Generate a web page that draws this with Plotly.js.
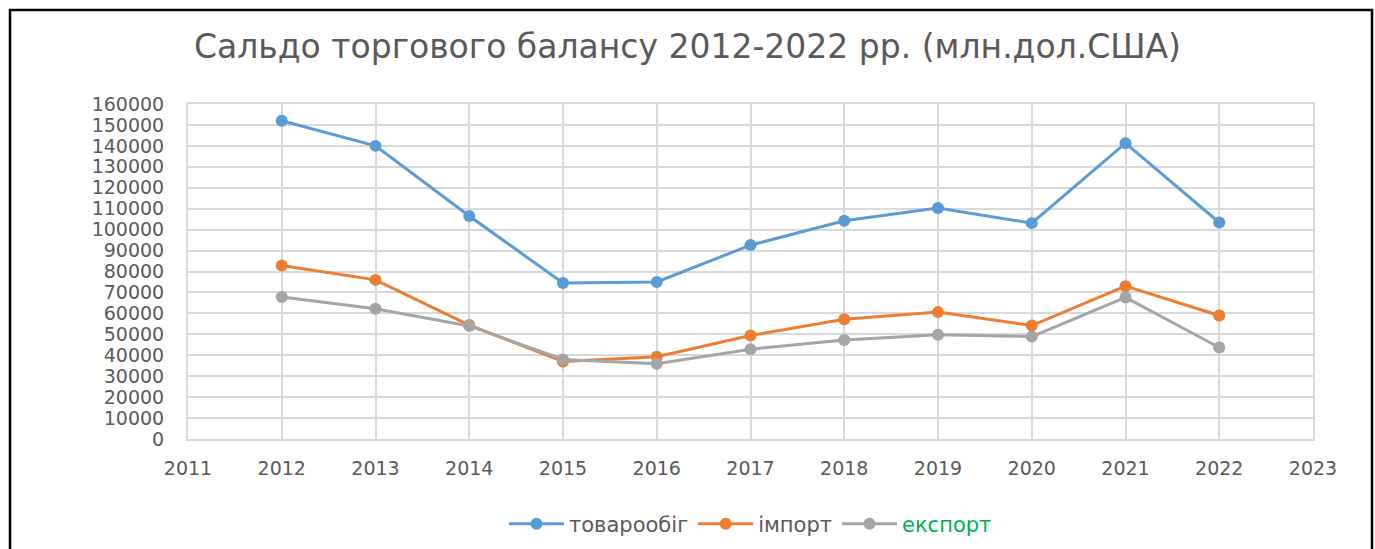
<!DOCTYPE html>
<html>
<head>
<meta charset="utf-8">
<script src="https://cdn.plot.ly/plotly-3.0.1.min.js"></script>
<style>html,body{margin:0;padding:0;background:#fff;}#chart{width:1375px;height:549px;}</style>
</head>
<body>
<div id="chart"></div>
<script>
const years = [2012, 2013, 2014, 2015, 2016, 2017, 2018, 2019, 2020, 2021, 2022];
const turnover = [152000, 140000, 106500, 74500, 75000, 92600, 104200, 110300, 103100, 141300, 103400];
const imports = [82900, 76000, 54400, 37000, 39300, 49400, 57200, 60600, 54200, 73000, 59000];
const exports = [67800, 62200, 54000, 38000, 35900, 42900, 47300, 49800, 48900, 67600, 43700];
const seriesNames = ['товарообіг', 'імпорт', 'експорт'];
const xTicks = [2011, 2012, 2013, 2014, 2015, 2016, 2017, 2018, 2019, 2020, 2021, 2022, 2023];
const yTicks = [0, 10000, 20000, 30000, 40000, 50000, 60000, 70000, 80000, 90000, 100000, 110000, 120000, 130000, 140000, 150000, 160000];

const colors = ['#5b9bd5', '#ed7d31', '#a5a5a5'];
const font = 'DejaVu Sans, Verdana, sans-serif';
function tr(y, i, name) {
  return {x: years, y: y, name: name, type: 'scatter', mode: 'lines+markers',
    line: {color: colors[i], width: 3}, marker: {color: colors[i], size: 12}};
}
const data = [
  tr(turnover, 0, seriesNames[0]),
  tr(imports, 1, seriesNames[1]),
  tr(exports, 2, '<span style="color:#00b050">' + seriesNames[2] + '</span>')
];
const W = 1125, H = 335;
const layout = {
  width: 1375, height: 549,
  paper_bgcolor: '#fff', plot_bgcolor: '#fff',
  margin: {l: 188, r: 62, t: 104, b: 110, autoexpand: false},
  title: {text: 'Сальдо торгового балансу 2012-2022 рр. (млн.дол.США)', font: {family: font, size: 33, color: '#595959'}, x: 0.5, xanchor: 'center', y: 1 - 46/549, yanchor: 'middle'},
  font: {family: font, color: '#595959', size: 19},
  xaxis: {range: [2011, 2023], tickvals: xTicks, ticktext: xTicks.map(String), showgrid: true, gridcolor: '#d9d9d9', gridwidth: 2,
    showline: true, linecolor: '#d9d9d9', linewidth: 2, mirror: true, zeroline: false, ticks: '', ticklabelstandoff: 11,
    tickfont: {family: font, size: 19, color: '#595959'}, fixedrange: true},
  yaxis: {range: [0, 160000], tickvals: yTicks, ticktext: yTicks.map(String), showgrid: true, gridcolor: '#d9d9d9', gridwidth: 2,
    showline: true, linecolor: '#d9d9d9', linewidth: 2, mirror: true, zeroline: false, ticks: '', ticklabelstandoff: 18,
    tickfont: {family: font, size: 19, color: '#595959'}, fixedrange: true},
  showlegend: true,
  legend: {orientation: 'h', x: 0.5, xanchor: 'center', yref: 'container', y: 1 - 524/549, yanchor: 'middle', font: {family: font, size: 21, color: '#595959'}, itemwidth: 55},
  shapes: [{type: 'rect', xref: 'paper', yref: 'paper', x0: (10-188)/W, x1: (1372-188)/W, y0: -0.4, y1: (439-10)/H,
    line: {color: '#000', width: 2.5}, fillcolor: 'rgba(0,0,0,0)', layer: 'below'}]
};
Plotly.newPlot('chart', data, layout, {displayModeBar: false, staticPlot: true});
</script>
</body>
</html>
